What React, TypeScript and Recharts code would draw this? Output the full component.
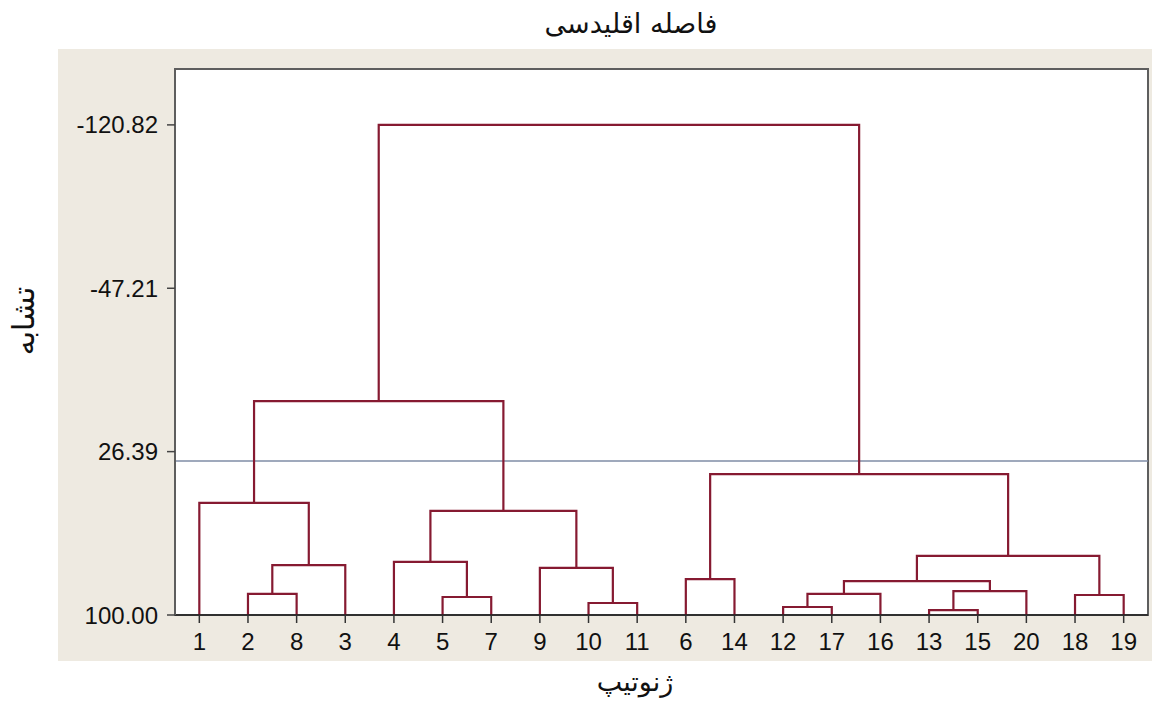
import { LineChart, Line, XAxis, YAxis, ReferenceLine, ReferenceArea } from "recharts";

// leaf order along the x axis
const leafOrder = ["1", "2", "8", "3", "4", "5", "7", "9", "10", "11", "6", "14", "12", "17", "16", "13", "15", "20", "18", "19"];

// merge steps: cluster "c{i}" joins joinLeft[i] and joinRight[i] at joinHeight[i]
const joinLeft = ["2", "c0", "1", "5", "4", "10", "9", "c4", "c2", "6", "12", "c10", "13", "c12", "c11", "18", "c14", "c9", "c8"];
const joinRight = ["8", "3", "c1", "7", "c3", "11", "c5", "c6", "c7", "14", "17", "16", "15", "20", "c13", "19", "c15", "c16", "c17"];
const joinHeight = [90.5, 77.5, 49.5, 91.9, 76.1, 94.6, 78.8, 53.1, 3.6, 83.8, 96.4, 90.5, 97.8, 89.2, 84.7, 91.0, 73.4, 36.5, -120.82];

const yTicks = [-120.82, -47.21, 26.39, 100];
const cutLevel = 30.6;
const leafLevel = 100;
const yDomain = [-146, 100];

const LINK = "#861a31";

const pos: Record<string, { x: number; h: number }> = {};
leafOrder.forEach((l, i) => {
  pos[l] = { x: i, h: leafLevel };
});
const links = joinLeft.map((a, i) => {
  const b = joinRight[i];
  const h = joinHeight[i];
  const pa = pos[a];
  const pb = pos[b];
  pos["c" + i] = { x: (pa.x + pb.x) / 2, h };
  return [
    { x: pa.x, y: pa.h },
    { x: pa.x, y: h },
    { x: pb.x, y: h },
    { x: pb.x, y: pb.h },
  ];
});

const tickFont = { fontFamily: "Liberation Sans", fontSize: 24, fill: "#111" };
const arabic = { fontFamily: "DejaVu Sans", color: "#111", direction: "rtl" as const };

export default function App() {
  return (
    <div style={{ position: "absolute", left: 0, top: 0, width: 1152, height: 706, background: "#fff" }}>
      <div style={{ position: "absolute", left: 58, top: 49, width: 1094, height: 612, background: "#eeeae1" }} />
      <div
        style={{
          ...arabic, position: "absolute", left: 431, top: 10, width: 400, textAlign: "center",
          fontSize: 27, lineHeight: "27px",
        }}
      >
        فاصله اقلیدسی
      </div>
      <div
        style={{
          ...arabic, position: "absolute", left: 435, top: 668, width: 400, textAlign: "center",
          fontSize: 27, lineHeight: "27px",
        }}
      >
        ژنوتیپ
      </div>
      <div
        style={{
          ...arabic, position: "absolute", left: 24, top: 321, transform: "translate(-50%, -50%) rotate(-90deg)",
          fontSize: 30, lineHeight: "30px", whiteSpace: "nowrap",
        }}
      >
        تشابه
      </div>
      <div style={{ position: "absolute", left: 0, top: 0 }}>
        <LineChart width={1152} height={706} margin={{ top: 69, right: 4, left: 0, bottom: 61 }}>
          <ReferenceArea
            x1={-0.5}
            x2={19.5}
            y1={yDomain[0]}
            y2={yDomain[1]}
            fill="#fff"
            fillOpacity={1}
            stroke="#5e5e5e"
            strokeWidth={2}
            ifOverflow="visible"
          />
          <XAxis
            type="number"
            dataKey="x"
            domain={[-0.5, 19.5]}
            ticks={leafOrder.map((_, i) => i)}
            tickFormatter={(v: number) => leafOrder[v]}
            interval={0}
            height={30}
            tickSize={8}
            tickMargin={10}
            tick={tickFont}
            axisLine={{ stroke: "#222", strokeWidth: 1.5 }}
            tickLine={{ stroke: "#333", strokeWidth: 1.5 }}
            allowDataOverflow
          />
          <YAxis
            type="number"
            domain={yDomain}
            reversed
            ticks={yTicks}
            tickFormatter={(v: number) => v.toFixed(2)}
            width={175}
            tickSize={8}
            tickMargin={9}
            tick={tickFont}
            axisLine={{ stroke: "#5e5e5e", strokeWidth: 2 }}
            tickLine={{ stroke: "#444", strokeWidth: 1.5 }}
            allowDataOverflow
          />
          <ReferenceLine y={cutLevel} stroke="#7f8ca6" strokeWidth={1.5} />
          {links.map((d, i) => (
            <Line
              key={i}
              data={d}
              dataKey="y"
              type="linear"
              stroke={LINK}
              strokeWidth={2.2}
              dot={false}
              activeDot={false}
              isAnimationActive={false}
            />
          ))}
        </LineChart>
      </div>
    </div>
  );
}
